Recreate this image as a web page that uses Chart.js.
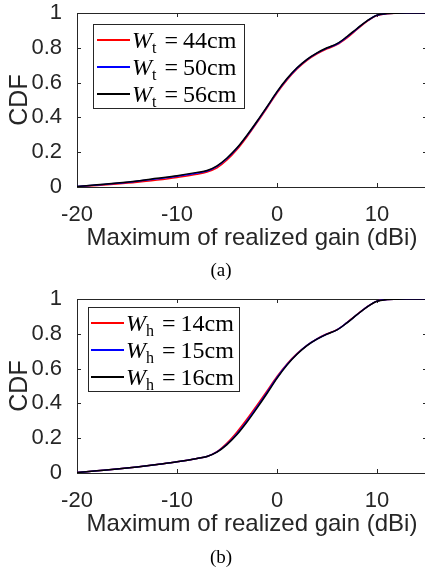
<!DOCTYPE html>
<html>
<head>
<meta charset="utf-8">
<script src="https://cdn.jsdelivr.net/npm/chart.js@4/dist/chart.umd.min.js"></script>
<style>
    body { margin: 0; width: 425px; height: 574px; overflow: hidden; background: #fff; position: relative; }
    .panel { position: absolute; left: 0; width: 440px; height: 287px; }
    .legend {
        position: absolute; box-sizing: border-box; width: 152px; height: 85px;
        border: 1px solid #262626; background: #fff; padding-top: 2px;
        font-family: "Liberation Serif", "Times New Roman", serif; font-size: 24px; color: #000;
    }
    .legend .row { display: flex; align-items: center; height: 26px; margin-bottom: 1px; white-space: nowrap; }
    .legend .sample { width: 33px; height: 2px; margin-right: 2px; }
    .legend .txt { line-height: 26px; }
    .legend sub { font-size: 16px; vertical-align: -5px; line-height: 0; }
    .legend .eq { margin: 0 5px 0 8px; }
    .caption {
        position: absolute; width: 60px; text-align: center;
        font-family: "Liberation Serif", "Times New Roman", serif; font-size: 19px; color: #000;
    }
</style>
</head>
<body>

<div class="panel" style="top:0"><canvas id="chartA"></canvas></div>
<div class="panel" style="top:286px"><canvas id="chartB"></canvas></div>

<div class="legend" id="legendA" style="left:93px; top:24px; padding-left:3px"></div>
<div class="legend" id="legendB" style="left:88px; top:307px; padding-left:2px"></div>

<div class="caption" style="left:191px; top:259px">(a)</div>
<div class="caption" style="left:191px; top:546px">(b)</div>

<script>
// Dados
const gain = [-20, -18, -16, -14, -12, -10, -8, -7, -6, -5, -4, -3, -2, -1, 0, 1, 2, 3, 4, 5, 6, 7, 8, 9, 10, 11, 12, 13, 15];

// (a) largura W_t
const cdfWt44 = [0.002, 0.009, 0.017, 0.027, 0.040, 0.055, 0.073, 0.086, 0.110, 0.155, 0.215, 0.289, 0.370, 0.454, 0.540, 0.615, 0.678, 0.728, 0.765, 0.794, 0.818, 0.857, 0.905, 0.952, 0.986, 0.996, 0.999, 1.0, 1.0];
const cdfWt50 = [0.003, 0.012, 0.021, 0.033, 0.047, 0.062, 0.080, 0.092, 0.119, 0.164, 0.223, 0.295, 0.375, 0.459, 0.545, 0.620, 0.683, 0.732, 0.769, 0.798, 0.822, 0.862, 0.909, 0.954, 0.987, 0.997, 0.999, 1.0, 1.0];
const cdfWt56 = [0.003, 0.013, 0.023, 0.035, 0.050, 0.065, 0.084, 0.095, 0.122, 0.167, 0.225, 0.298, 0.378, 0.462, 0.548, 0.623, 0.685, 0.734, 0.771, 0.800, 0.824, 0.865, 0.911, 0.955, 0.988, 0.997, 0.999, 1.0, 1.0];

// (b) altura W_h
const cdfWh14 = [0.003, 0.013, 0.023, 0.035, 0.049, 0.064, 0.083, 0.095, 0.123, 0.172, 0.236, 0.310, 0.390, 0.472, 0.555, 0.627, 0.686, 0.734, 0.771, 0.800, 0.824, 0.865, 0.911, 0.955, 0.988, 0.997, 0.999, 1.0, 1.0];
const cdfWh15 = [0.003, 0.013, 0.023, 0.035, 0.049, 0.064, 0.083, 0.095, 0.121, 0.166, 0.226, 0.299, 0.379, 0.463, 0.549, 0.623, 0.684, 0.733, 0.770, 0.799, 0.823, 0.864, 0.910, 0.955, 0.988, 0.997, 0.999, 1.0, 1.0];
const cdfWh16 = [0.003, 0.013, 0.023, 0.035, 0.049, 0.064, 0.083, 0.095, 0.120, 0.163, 0.221, 0.293, 0.373, 0.457, 0.544, 0.620, 0.682, 0.732, 0.769, 0.798, 0.822, 0.863, 0.910, 0.954, 0.987, 0.997, 0.999, 1.0, 1.0];

const xTicks = [-20, -10, 0, 10];
const yTicks = [0, 0.2, 0.4, 0.6, 0.8, 1];

const seriesColors = ['#ff0000', '#0000ff', '#000000'];
const labelsA = ['44cm', '50cm', '56cm'];
const labelsB = ['14cm', '15cm', '16cm'];

const axisColor = '#262626';

// Moldura e marcas de escala para dentro (estilo MATLAB)
const framePlugin = {
    id: 'frame',
    beforeDatasetsDraw(chart) {
        const { ctx, chartArea: a, scales } = chart;
        const t = 4;
        ctx.save();
        ctx.strokeStyle = axisColor;
        ctx.lineWidth = 1;
        ctx.strokeRect(Math.round(a.left) + 0.5, Math.round(a.top) + 0.5,
            Math.round(a.right - a.left), Math.round(a.bottom - a.top));
        ctx.beginPath();
        xTicks.forEach(v => {
            const px = Math.round(scales.x.getPixelForValue(v)) + 0.5;
            ctx.moveTo(px, a.bottom); ctx.lineTo(px, a.bottom - t);
            ctx.moveTo(px, a.top); ctx.lineTo(px, a.top + t);
        });
        yTicks.forEach(v => {
            const py = Math.round(scales.y.getPixelForValue(v)) + 0.5;
            ctx.moveTo(a.left, py); ctx.lineTo(a.left + t, py);
            ctx.moveTo(a.right, py); ctx.lineTo(a.right - t, py);
        });
        ctx.stroke();
        ctx.restore();
    }
};

function makeDataset(values, color, order) {
    return {
        data: gain.map((g, i) => ({ x: g, y: values[i] })),
        borderColor: color,
        borderWidth: 1.5,
        pointRadius: 0,
        fill: false,
        cubicInterpolationMode: 'monotone',
        order: order
    };
}

function makeChart(canvasId, series) {
    const ctx = document.getElementById(canvasId).getContext('2d');
    return new Chart(ctx, {
        type: 'line',
        data: {
            datasets: series.map((s, i) => makeDataset(s, seriesColors[i], series.length - i))
        },
        options: {
            responsive: true,
            maintainAspectRatio: false,
            animation: false,
            layout: { padding: { top: 13, right: 13, left: 0, bottom: 0 } },
            plugins: { legend: { display: false }, tooltip: { enabled: false } },
            scales: {
                x: {
                    type: 'linear',
                    min: -20,
                    max: 15,
                    grid: { display: false },
                    border: { display: false },
                    afterBuildTicks: s => { s.ticks = xTicks.map(v => ({ value: v })); },
                    afterFit: s => { s.height = 100; s.paddingLeft = 0; s.paddingRight = 0; },
                    ticks: {
                        color: axisColor,
                        font: { family: 'Liberation Sans', size: 22 },
                        padding: 7,
                        maxRotation: 0,
                        autoSkip: false,
                        callback: v => String(v)
                    },
                    title: {
                        display: true,
                        text: 'Maximum of realized gain (dBi)',
                        color: axisColor,
                        font: { family: 'Liberation Sans', size: 24 },
                        padding: { top: 0, bottom: 34 }
                    }
                },
                y: {
                    min: 0,
                    max: 1,
                    grid: { display: false },
                    border: { display: false },
                    afterBuildTicks: s => { s.ticks = yTicks.map(v => ({ value: v })); },
                    afterFit: s => { s.width = 77; s.paddingTop = 0; s.paddingBottom = 0; },
                    ticks: {
                        color: axisColor,
                        font: { family: 'Liberation Sans', size: 22 },
                        padding: 7,
                        callback: v => String(v)
                    },
                    title: {
                        display: true,
                        text: 'CDF',
                        color: axisColor,
                        font: { family: 'Liberation Sans', size: 25 },
                        padding: { top: 5, bottom: 0 }
                    }
                }
            }
        },
        plugins: [framePlugin]
    });
}

// Legenda em HTML (permite o subscrito do LaTeX)
function buildLegend(elId, sym, labels) {
    const box = document.getElementById(elId);
    labels.forEach((lab, i) => {
        const row = document.createElement('div');
        row.className = 'row';
        row.innerHTML = `<span class="sample" style="background:${seriesColors[i]}"></span>` +
            `<span class="txt"><i>W</i><sub>${sym}</sub><span class="eq">=</span>${lab}</span>`;
        box.appendChild(row);
    });
}

makeChart('chartA', [cdfWt44, cdfWt50, cdfWt56]);
makeChart('chartB', [cdfWh14, cdfWh15, cdfWh16]);
buildLegend('legendA', 't', labelsA);
buildLegend('legendB', 'h', labelsB);
</script>
</body>
</html>
